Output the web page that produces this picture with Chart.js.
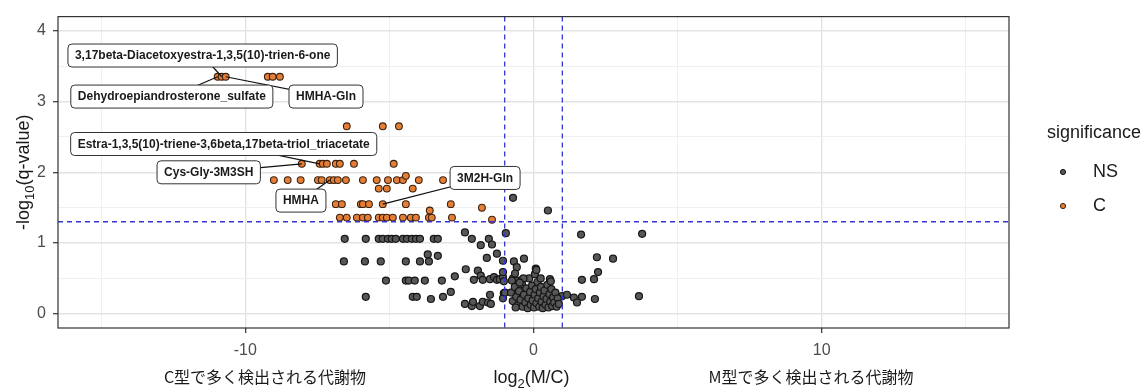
<!DOCTYPE html>
<html>
<head>
<meta charset="utf-8">
<script src="https://cdn.jsdelivr.net/npm/chart.js@4.4.1/dist/chart.umd.min.js"></script>
<style>
  html, body { margin: 0; padding: 0; background: #fff; }
  #wrap { width: 1148px; height: 388px; }
</style>
</head>
<body>
<div id="wrap"><canvas id="volcano" width="1148" height="388"></canvas></div>
<script>
// log2(M/C), -log10(q) pairs
const nsPoints = [
  [-0.71,1.64],[0.50,1.46],[1.65,1.12],[3.77,1.13],
  [-6.55,1.06],[-5.82,1.06],[-5.37,1.06],[-5.23,1.06],[-5.05,1.06],[-4.92,1.06],[-4.78,1.06],[-4.53,1.06],
  [-4.39,1.06],[-4.22,1.06],[-4.08,1.06],[-3.94,1.06],[-3.46,1.06],[-3.32,1.06],[-2.14,1.06],[-1.55,1.06],
  [-2.38,1.15],[-0.96,1.14],[-1.83,0.97],[-1.44,0.98],[-1.27,0.85],[-1.62,0.79],
  [-6.58,0.74],[-5.85,0.74],[-5.30,0.74],[-4.43,0.74],[-3.94,0.74],[-3.63,0.74],
  [-3.67,0.84],[-3.32,0.82],[-1.06,0.75],[-0.68,0.74],[-0.33,0.78],[-0.58,0.66],[0.08,0.64],[-2.35,0.63],[-1.93,0.61],
  [2.20,0.80],[2.76,0.78],[2.24,0.59],[2.10,0.49],[1.68,0.48],[0.57,0.49],
  [-5.12,0.47],[-4.43,0.47],[-4.33,0.47],[-4.12,0.47],[-3.77,0.47],[-3.18,0.47],
  [-2.73,0.53],[-2.07,0.48],[-1.83,0.54],[-1.76,0.48],[-1.51,0.49],[-1.37,0.52],[-1.27,0.48],[-1.17,0.49],
  [-1.06,0.52],[-1.03,0.46],[-0.71,0.50],[-0.58,0.47],
  [-5.82,0.24],[-4.19,0.24],[-4.05,0.24],
  [-3.56,0.21],[-3.14,0.24],[-2.87,0.31],[-2.38,0.14],[-2.14,0.11],[-2.10,0.17],[-1.86,0.11],[-1.76,0.17],
  [-1.58,0.16],[-1.48,0.14],[-1.03,0.29],[-1.06,0.22],[-1.51,0.27],
  [0.99,0.25],[1.16,0.27],[1.40,0.23],[1.51,0.16],[1.68,0.24],[2.13,0.21],[3.66,0.25],
  [-1.06,0.59],[-0.99,0.30],[-0.64,0.57],[-0.40,0.48],[-0.75,0.47],
  [-0.78,0.30],[-0.72,0.18],[-0.65,0.38],[-0.60,0.24],[-0.55,0.12],[-0.50,0.32],[-0.45,0.20],[-0.40,0.42],
  [-0.38,0.10],[-0.33,0.27],[-0.28,0.16],[-0.25,0.36],[-0.20,0.08],[-0.18,0.22],[-0.12,0.31],[-0.10,0.13],
  [-0.05,0.40],[-0.03,0.19],[0.02,0.09],[0.04,0.27],[0.08,0.35],[0.10,0.15],[0.14,0.45],[0.16,0.22],
  [0.20,0.10],[0.22,0.30],[0.26,0.38],[0.28,0.17],[0.32,0.08],[0.35,0.25],[0.38,0.33],[0.42,0.13],
  [0.45,0.21],[0.48,0.41],[0.52,0.09],[0.55,0.28],[0.58,0.17],[0.62,0.35],[0.65,0.11],[0.68,0.23],
  [0.72,0.16],[0.76,0.30],[0.80,0.10],[0.84,0.22],[0.88,0.14],[-0.62,0.09],[-0.15,0.50],[0.05,0.56],
  [0.25,0.50],[-0.35,0.50],[0.10,0.62],[-0.48,0.44],[0.60,0.46]
];

const cPoints = [
  [-10.96,3.35],[-10.82,3.35],[-10.68,3.35],[-9.22,3.35],[-9.05,3.35],[-8.80,3.35],
  [-6.48,2.65],[-5.23,2.65],[-4.67,2.65],
  [-8.04,2.12],[-7.42,2.12],[-7.31,2.12],[-7.17,2.12],[-6.86,2.12],[-6.72,2.12],[-6.23,2.12],[-4.85,2.12],
  [-9.01,1.89],[-8.53,1.89],[-8.08,1.89],[-7.48,1.89],[-7.35,1.89],[-7.07,1.89],[-6.93,1.89],[-6.79,1.89],
  [-6.51,1.89],[-5.92,1.89],[-5.44,1.89],[-5.05,1.89],[-4.74,1.89],[-4.53,1.89],[-3.98,1.89],[-3.14,1.89],
  [-4.43,1.95],
  [-5.37,1.77],[-5.09,1.77],[-4.19,1.77],
  [-6.86,1.55],[-6.65,1.55],[-5.99,1.55],[-5.92,1.55],[-5.71,1.55],[-5.23,1.55],[-4.43,1.55],[-2.87,1.55],
  [-3.60,1.46],[-1.79,1.50],
  [-6.72,1.36],[-6.48,1.36],[-6.13,1.36],[-5.92,1.36],[-5.75,1.36],[-5.37,1.36],[-5.23,1.36],[-5.09,1.36],
  [-4.88,1.36],[-4.53,1.36],[-4.26,1.36],[-4.08,1.36],[-3.63,1.36],[-3.53,1.36],[-2.83,1.36],[-1.44,1.33]
];

const labelNames = [
  '3,17beta-Diacetoxyestra-1,3,5(10)-trien-6-one',
  'Dehydroepiandrosterone_sulfate',
  'HMHA-Gln',
  'Estra-1,3,5(10)-triene-3,6beta,17beta-triol_triacetate',
  'Cys-Gly-3M3SH',
  'HMHA',
  '3M2H-Gln'
];
const labelPoints = [[-10.82,3.35],[-10.96,3.35],[-10.68,3.35],[-7.42,2.12],[-8.04,2.12],[-7.07,1.89],[-5.23,1.55]];

const xTicks = [-15, -10, -5, 0, 5, 10, 15];
const xLabelled = [-10, 0, 10];
const yTicks = [0, 0.5, 1, 1.5, 2, 2.5, 3, 3.5, 4];
const vLines = [-1, 1];
const hLines = [1.301];
const xSideTitles = ['C型で多く検出される代謝物', 'M型で多く検出される代謝物'];
const legendTitle = 'significance';
const legendNames = ['NS', 'C'];

// where the repelled label boxes sit (data units)
const labelBoxes = [[-11.48,3.65],[-12.55,3.07],[-7.20,3.07],[-10.75,2.40],[-11.27,2.00],[-8.07,1.60],[-1.68,1.92]];

const FONT = '"Liberation Sans", Arial, sans-serif';
const NS_FILL = '#575757', NS_EDGE = '#161616';
const C_FILL = '#e47e36', C_EDGE = '#3d220f';

function roundBox(ctx, x, y, w, h, r) {
  ctx.beginPath();
  ctx.moveTo(x + r, y);
  ctx.arcTo(x + w, y, x + w, y + h, r);
  ctx.arcTo(x + w, y + h, x, y + h, r);
  ctx.arcTo(x, y + h, x, y, r);
  ctx.arcTo(x, y, x + w, y, r);
  ctx.closePath();
}

function drawSubText(ctx, parts, cx, baseY, size) {
  // parts: [text, isSub]
  const widths = parts.map(([t, sub]) => {
    ctx.font = `${sub ? Math.round(size * 0.72) : size}px ${FONT}`;
    return ctx.measureText(t).width;
  });
  let x = cx - widths.reduce((a, b) => a + b, 0) / 2;
  parts.forEach(([t, sub], i) => {
    ctx.font = `${sub ? Math.round(size * 0.72) : size}px ${FONT}`;
    ctx.fillText(t, x, baseY + (sub ? size * 0.28 : 0));
    x += widths[i];
  });
}

const overlay = {
  id: 'overlay',
  afterDatasetsDraw(chart) {
    const { ctx, chartArea: a, scales: { x, y } } = chart;
    ctx.save();
    ctx.beginPath();
    ctx.rect(a.left, a.top, a.right - a.left, a.bottom - a.top);
    ctx.clip();

    // threshold lines
    ctx.setLineDash([5, 4]);
    ctx.strokeStyle = '#3434d0';
    ctx.lineWidth = 1.3;
    vLines.forEach(v => {
      const px = x.getPixelForValue(v);
      ctx.beginPath(); ctx.moveTo(px, a.top); ctx.lineTo(px, a.bottom); ctx.stroke();
    });
    hLines.forEach(v => {
      const py = y.getPixelForValue(v);
      ctx.beginPath(); ctx.moveTo(a.left, py); ctx.lineTo(a.right, py); ctx.stroke();
    });
    ctx.setLineDash([]);

    // labels
    ctx.font = `bold 12px ${FONT}`;
    ctx.textAlign = 'center';
    ctx.textBaseline = 'middle';
    labelNames.forEach((name, i) => {
      const bx = x.getPixelForValue(labelBoxes[i][0]);
      const by = y.getPixelForValue(labelBoxes[i][1]);
      const px = x.getPixelForValue(labelPoints[i][0]);
      const py = y.getPixelForValue(labelPoints[i][1]);
      ctx.strokeStyle = '#111';
      ctx.lineWidth = 1.2;
      ctx.beginPath(); ctx.moveTo(bx, by); ctx.lineTo(px, py); ctx.stroke();
    });
    labelNames.forEach((name, i) => {
      const bx = x.getPixelForValue(labelBoxes[i][0]);
      const by = y.getPixelForValue(labelBoxes[i][1]);
      const w = ctx.measureText(name).width + 14;
      const h = 23;
      roundBox(ctx, bx - w / 2, by - h / 2, w, h, 4);
      ctx.fillStyle = '#fff';
      ctx.fill();
      ctx.strokeStyle = '#333';
      ctx.lineWidth = 1;
      ctx.stroke();
      ctx.fillStyle = '#1a1a1a';
      ctx.fillText(name, bx, by + 0.5);
    });
    ctx.restore();

    // panel border
    ctx.save();
    ctx.strokeStyle = '#333';
    ctx.lineWidth = 1.2;
    ctx.strokeRect(a.left, a.top, a.right - a.left, a.bottom - a.top);

    // axis titles
    ctx.fillStyle = '#1a1a1a';
    ctx.textAlign = 'left';
    ctx.textBaseline = 'alphabetic';
    const mid = (a.left + a.right) / 2;
    drawSubText(ctx, [['log', false], ['2', true], ['(M/C)', false]], mid - 2, 383, 18);
    ctx.font = '16px "Noto Sans CJK JP", sans-serif';
    ctx.textAlign = 'center';
    ctx.textBaseline = 'middle';
    ctx.fillText(xSideTitles[0], 265, 377);
    ctx.fillText(xSideTitles[1], 811, 377);

    ctx.save();
    ctx.translate(23, (a.top + a.bottom) / 2);
    ctx.rotate(-Math.PI / 2);
    ctx.textAlign = 'left';
    ctx.textBaseline = 'alphabetic';
    drawSubText(ctx, [['-log', false], ['10', true], ['(q-value)', false]], 0, 6, 18);
    ctx.restore();

    // legend
    ctx.textAlign = 'left';
    ctx.textBaseline = 'middle';
    ctx.font = `18px ${FONT}`;
    ctx.fillText(legendTitle, 1047, 133);
    const keyY = [172, 206];
    const keyFill = [NS_FILL, C_FILL];
    const keyEdge = [NS_EDGE, C_EDGE];
    legendNames.forEach((n, i) => {
      ctx.beginPath();
      ctx.arc(1063, keyY[i], 2.6, 0, Math.PI * 2);
      ctx.fillStyle = keyFill[i];
      ctx.fill();
      ctx.strokeStyle = keyEdge[i];
      ctx.lineWidth = 1;
      ctx.stroke();
      ctx.fillStyle = '#1a1a1a';
      ctx.fillText(n, 1093, keyY[i]);
    });
    ctx.restore();
  }
};

new Chart(document.getElementById('volcano'), {
  type: 'scatter',
  data: {
    datasets: [
      {
        label: 'NS',
        data: nsPoints.map(([px, py]) => ({ x: px, y: py })),
        backgroundColor: NS_FILL,
        borderColor: NS_EDGE,
        borderWidth: 1.2,
        pointRadius: 3.5
      },
      {
        label: 'C',
        data: cPoints.map(([px, py]) => ({ x: px, y: py })),
        backgroundColor: C_FILL,
        borderColor: C_EDGE,
        borderWidth: 1.1,
        pointRadius: 3.4
      }
    ]
  },
  options: {
    responsive: false,
    animation: false,
    layout: { padding: { top: 14, right: 139, bottom: 0, left: 0 } },
    plugins: { legend: { display: false }, tooltip: { enabled: false } },
    scales: {
      x: {
        type: 'linear',
        min: -16.5,
        max: 16.5,
        afterBuildTicks: s => { s.ticks = xTicks.map(v => ({ value: v })); },
        afterFit: s => { s.height = 60; },
        border: { display: false },
        grid: {
          color: c => xLabelled.includes(c.tick.value) ? '#e3e3e3' : '#eeeeee',
          lineWidth: c => xLabelled.includes(c.tick.value) ? 1.4 : 0.9,
          tickColor: c => xLabelled.includes(c.tick.value) ? '#333' : 'rgba(0,0,0,0)',
          tickLength: 5,
          tickWidth: 1.2
        },
        ticks: {
          autoSkip: false,
          maxRotation: 0,
          padding: 8,
          color: '#4d4d4d',
          font: { size: 16, family: FONT },
          callback: v => xLabelled.includes(v) ? String(v) : ''
        }
      },
      y: {
        type: 'linear',
        min: -0.2,
        max: 4.2,
        afterBuildTicks: s => { s.ticks = yTicks.map(v => ({ value: v })); },
        afterFit: s => { s.width = 58; },
        border: { display: false },
        grid: {
          color: c => Number.isInteger(c.tick.value) ? '#e3e3e3' : '#eeeeee',
          lineWidth: c => Number.isInteger(c.tick.value) ? 1.4 : 0.9,
          tickColor: c => Number.isInteger(c.tick.value) ? '#333' : 'rgba(0,0,0,0)',
          tickLength: 5,
          tickWidth: 1.2
        },
        ticks: {
          autoSkip: false,
          padding: 7,
          color: '#4d4d4d',
          font: { size: 16, family: FONT },
          callback: v => Number.isInteger(v) ? String(v) : ''
        }
      }
    }
  },
  plugins: [overlay]
});
</script>
</body>
</html>
